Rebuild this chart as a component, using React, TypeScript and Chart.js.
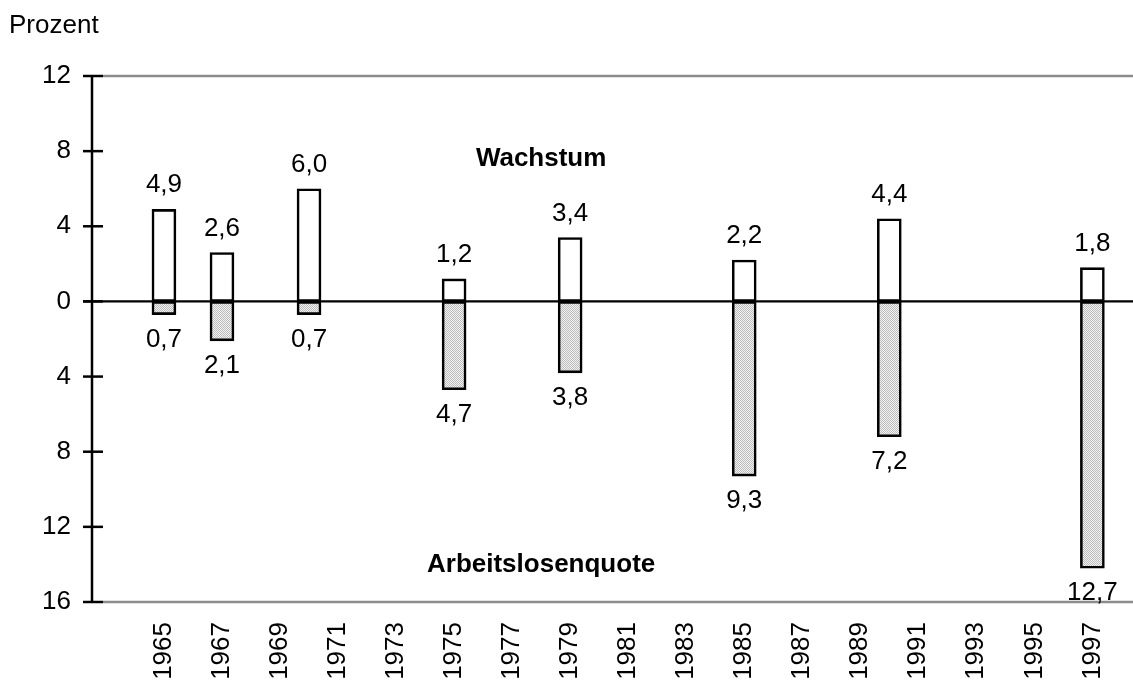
import React, { useEffect, useRef } from 'react';
import { Chart, registerables } from 'chart.js';

Chart.register(...registerables);

// ---- Data ----
const years = [1965, 1967, 1970, 1975, 1979, 1985, 1990, 1997];
const growth = [4.9, 2.6, 6.0, 1.2, 3.4, 2.2, 4.4, 1.8];
// printed unemployment values
const unemployment = [0.7, 2.1, 0.7, 4.7, 3.8, 9.3, 7.2, 12.7];
// bar lengths as drawn in the picture (the 1997 bar reaches ~14.2 on the axis)
const unemploymentBars = [0.7, 2.1, 0.7, 4.7, 3.8, 9.3, 7.2, 14.2];
const xTickYears = [1965, 1967, 1969, 1971, 1973, 1975, 1977, 1979, 1981, 1983, 1985, 1987, 1989, 1991, 1993, 1995, 1997];
const yTickValues = [12, 8, 4, 0, -4, -8, -12, -16];
const yAxisTitle = 'Prozent';
const growthTitle = 'Wachstum';
const unemploymentTitle = 'Arbeitslosenquote';

const FONT_FAMILY = '"Liberation Sans", Arial, Helvetica, sans-serif';
const FONT_SIZE = 26;

const fmt = (v: number) => v.toFixed(1).replace('.', ',');

const decorPlugin = {
  id: 'decor',
  beforeDatasetsDraw(chart: any) {
    const { ctx, chartArea, scales } = chart;
    const y = scales.y;
    ctx.save();
    ctx.strokeStyle = '#8c8c8c';
    ctx.lineWidth = 2.5;
    const yTop = y.getPixelForValue(y.max);
    const yBot = y.getPixelForValue(y.min);
    ctx.beginPath();
    ctx.moveTo(chartArea.left + 11, yTop);
    ctx.lineTo(chartArea.right, yTop);
    ctx.moveTo(chartArea.left + 11, yBot);
    ctx.lineTo(chartArea.right, yBot);
    ctx.stroke();
    ctx.restore();
  },
  afterDatasetsDraw(chart: any) {
    const { ctx, chartArea, scales } = chart;
    const x = scales.x;
    const y = scales.y;
    ctx.save();
    // zero line
    const y0 = y.getPixelForValue(0);
    ctx.strokeStyle = '#000';
    ctx.lineWidth = 2.2;
    ctx.beginPath();
    ctx.moveTo(chartArea.left - 9, y0);
    ctx.lineTo(chartArea.right, y0);
    ctx.stroke();
    // y axis line
    const ax = chartArea.left;
    ctx.lineWidth = 2.5;
    ctx.beginPath();
    ctx.moveTo(ax, y.getPixelForValue(y.max));
    ctx.lineTo(ax, y.getPixelForValue(y.min));
    ctx.stroke();
    // tick marks (crossing)
    for (const v of yTickValues) {
      const py = y.getPixelForValue(v);
      ctx.beginPath();
      ctx.moveTo(ax - 9, py);
      ctx.lineTo(ax + 11, py);
      ctx.stroke();
    }
    // value labels
    ctx.fillStyle = '#000';
    ctx.font = `${FONT_SIZE}px ${FONT_FAMILY}`;
    ctx.textAlign = 'center';
    ctx.textBaseline = 'alphabetic';
    const m0 = chart.getDatasetMeta(0);
    const m1 = chart.getDatasetMeta(1);
    m0.data.forEach((bar: any, i: number) => {
      ctx.fillText(fmt(growth[i]), bar.x, bar.y - 17);
    });
    m1.data.forEach((bar: any, i: number) => {
      ctx.fillText(fmt(unemployment[i]), bar.x, bar.y + 32);
    });
    // series titles
    ctx.font = `bold ${FONT_SIZE}px ${FONT_FAMILY}`;
    ctx.textBaseline = 'middle';
    ctx.fillText(growthTitle, x.getPixelForValue(1978), y.getPixelForValue(7.6));
    ctx.fillText(unemploymentTitle, x.getPixelForValue(1978), y.getPixelForValue(-14));
    // axis title
    ctx.font = `${FONT_SIZE}px ${FONT_FAMILY}`;
    ctx.textAlign = 'left';
    ctx.textBaseline = 'alphabetic';
    ctx.fillText(yAxisTitle, 9, 33);
    ctx.restore();
  },
};

export default function App() {
  const canvasRef = useRef<HTMLCanvasElement | null>(null);

  useEffect(() => {
    const canvas = canvasRef.current;
    if (!canvas) return;
    const ctx = canvas.getContext('2d')!;

    const pc = document.createElement('canvas');
    pc.width = 2;
    pc.height = 2;
    const pctx = pc.getContext('2d')!;
    pctx.fillStyle = '#f2f2f2';
    pctx.fillRect(0, 0, 2, 2);
    pctx.fillStyle = '#bcbcbc';
    pctx.fillRect(0, 0, 1, 1);
    pctx.fillRect(1, 1, 1, 1);
    const pattern = ctx.createPattern(pc, 'repeat');

    const font = { family: FONT_FAMILY, size: FONT_SIZE };

    const chart = new Chart(ctx, {
      type: 'bar',
      data: {
        datasets: [
          {
            label: growthTitle,
            data: years.map((yr, i) => ({ x: yr, y: growth[i] })),
            backgroundColor: '#ffffff',
            borderColor: '#000000',
            borderWidth: 2.6,
            borderSkipped: false,
            barThickness: 24,
            grouped: false,
          } as any,
          {
            label: unemploymentTitle,
            data: years.map((yr, i) => ({ x: yr, y: -unemploymentBars[i] })),
            backgroundColor: pattern as any,
            borderColor: '#000000',
            borderWidth: 2.6,
            borderSkipped: false,
            barThickness: 24,
            grouped: false,
          } as any,
        ],
      },
      options: {
        responsive: false,
        animation: false,
        layout: { padding: { top: 76, right: 0, bottom: 0, left: 0 } },
        plugins: {
          legend: { display: false },
          tooltip: { enabled: false },
        },
        scales: {
          x: {
            type: 'linear',
            offset: false,
            min: 1962.52,
            max: 1998.4,
            grid: { display: false, drawTicks: false, offset: false },
            border: { display: false },
            ticks: {
              autoSkip: false,
              maxRotation: 90,
              minRotation: 90,
              padding: 20,
              color: '#000',
              font,
              callback: (v: any) => String(v),
            },
            afterBuildTicks: (s: any) => {
              s.ticks = xTickYears.map((v) => ({ value: v }));
            },
            afterFit: (s: any) => {
              s.height = 84;
              s.paddingLeft = 0;
              s.paddingRight = 0;
            },
          },
          y: {
            type: 'linear',
            min: -16,
            max: 12,
            grid: { display: false, drawTicks: false },
            border: { display: false },
            ticks: {
              padding: 21,
              color: '#000',
              font,
              callback: (v: any) => String(Math.abs(Number(v))),
            },
            afterBuildTicks: (s: any) => {
              s.ticks = yTickValues.map((v) => ({ value: v }));
            },
            afterFit: (s: any) => {
              s.width = 92;
            },
          },
        },
      } as any,
      plugins: [decorPlugin],
    });

    return () => chart.destroy();
  }, []);

  return (
    <div style={{ position: 'absolute', left: 0, top: 0, width: 1133, height: 686, background: '#fff' }}>
      <canvas ref={canvasRef} width={1133} height={686} style={{ width: 1133, height: 686, display: 'block' }} />
    </div>
  );
}
